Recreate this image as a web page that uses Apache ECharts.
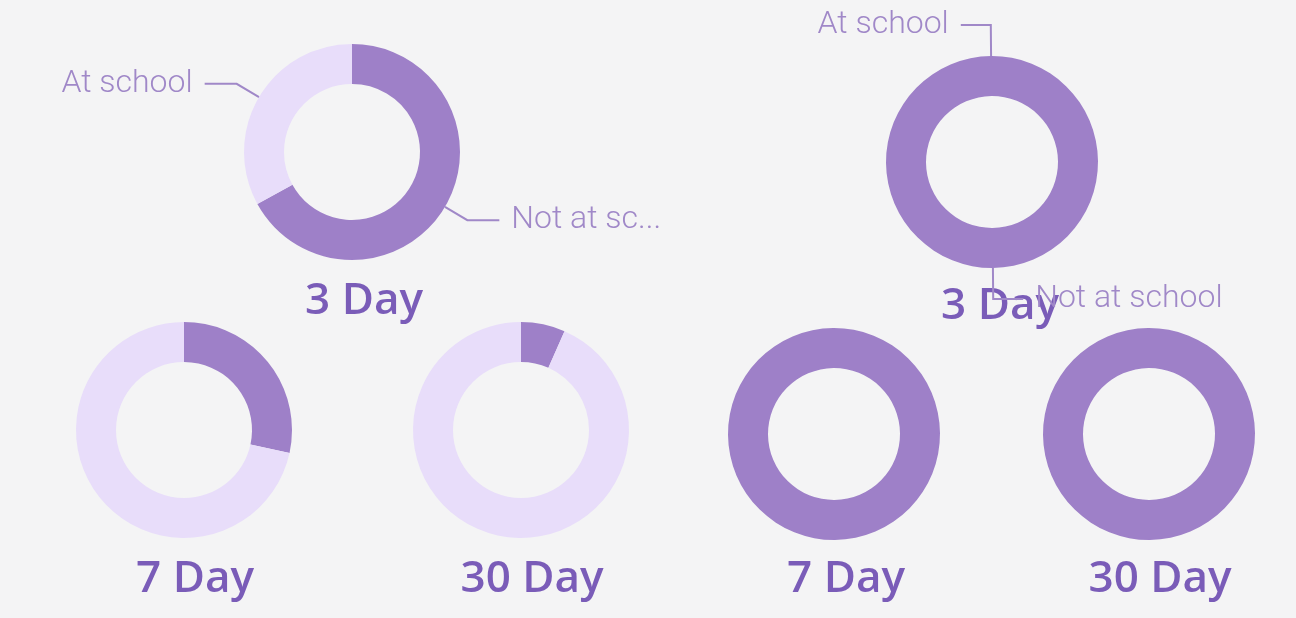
<!DOCTYPE html>
<html>
<head>
<meta charset="utf-8">
<script src="https://cdn.jsdelivr.net/npm/echarts@6/dist/echarts.min.js"></script>
<style>
html,body{margin:0;padding:0;background:#f4f4f5;}
#main{width:1296px;height:618px;}
</style>
</head>
<body>
<div id="main"></div>
<script>
// Data
const categories = ['Not at school', 'At school'];
const periods = ['3 Day', '7 Day', '30 Day'];
const leftNotAtSchool = [67, 28.4, 6.6];
const leftAtSchool = [33, 71.6, 93.4];
const rightNotAtSchool = [100, 100, 100];
const rightAtSchool = [0, 0, 0];

// Layout (pixels)
const leftCenters = [[352, 152], [184, 430], [521, 430]];
const rightCenters = [[992, 162], [834, 434], [1149, 434]];
const leftRadius = [68, 108];
const rightRadius = [66, 106];
const leftTitlePos = [[364, 301], [195, 579], [532, 579]];
const rightTitlePos = [[1000, 306], [846, 579], [1160, 579]];

const DARK = '#9e80c8';
const LIGHT = '#e8ddfa';
const TITLE = '#7a5cb8';
const LABEL = '#a088c8';

function makeSeries(notArr, atArr, centers, radius, startAngle, showLabelIdx, labelOpts) {
  return centers.map((c, i) => {
    const show = i === showLabelIdx;
    return {
      type: 'pie',
      center: c,
      radius: radius,
      startAngle: startAngle,
      clockwise: true,
      silent: true,
      avoidLabelOverlap: false,
      label: Object.assign({
        show: show,
        position: 'outside',
        color: LABEL,
        fontFamily: 'Roboto',
        fontWeight: 300,
        fontSize: 32,
        distanceToLabelLine: 12,
        formatter: '{b}'
      }, labelOpts.label || {}),
      labelLine: Object.assign({
        show: show,
        smooth: false,
        lineStyle: { color: LABEL, width: 2 }
      }, labelOpts.labelLine || {}),
      emphasis: { disabled: true },
      data: [
        { name: categories[0], value: notArr[i], itemStyle: { color: DARK } },
        { name: categories[1], value: atArr[i], itemStyle: { color: LIGHT } }
      ]
    };
  });
}

const series = [].concat(
  makeSeries(leftNotAtSchool, leftAtSchool, leftCenters, leftRadius, 90, 0,
    { label: { width: 165, overflow: 'truncate', ellipsis: '...' }, labelLine: { length: 26, length2: 32 } }),
  makeSeries(rightNotAtSchool, rightAtSchool, rightCenters, rightRadius, 90.5, 0,
    { labelLine: { length: 31, length2: 30 } })
);

const titleTexts = [];
periods.forEach((p, i) => {
  titleTexts.push({ type: 'text', x: leftTitlePos[i][0], y: leftTitlePos[i][1],
    style: { text: p, fill: TITLE, font: '600 44px "Open Sans"', align: 'center', verticalAlign: 'middle' } });
});
periods.forEach((p, i) => {
  titleTexts.push({ type: 'text', x: rightTitlePos[i][0], y: rightTitlePos[i][1],
    style: { text: p, fill: TITLE, font: '600 44px "Open Sans"', align: 'center', verticalAlign: 'middle' } });
});

const chart = echarts.init(document.getElementById('main'));
chart.setOption({
  backgroundColor: '#f4f4f5',
  animation: false,
  series: series,
  graphic: titleTexts
});
</script>
</body>
</html>
